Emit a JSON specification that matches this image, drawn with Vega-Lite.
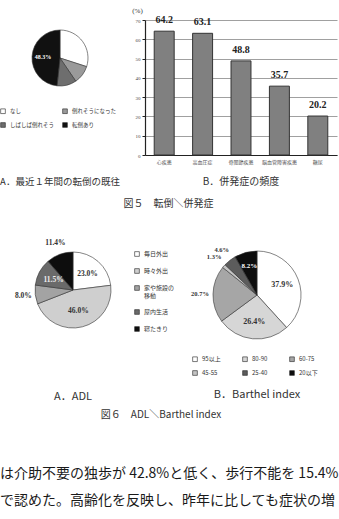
{
  "$schema": "https://vega.github.io/schema/vega-lite/v6.json",
  "padding": {"left": 0, "top": 6, "right": 0, "bottom": 0},
  "background": "white",
  "config": {
    "view": {"stroke": null},
    "font": "Noto Sans CJK JP",
    "title": {"fontWeight": "normal", "color": "#333", "fontSize": 10, "font": "Noto Sans CJK JP"}
  },
  "title": {
    "text": ["は介助不要の独歩が 42.8%と低く、歩行不能を 15.4%", "で認めた。高齢化を反映し、昨年に比しても症状の増", "加がみられた。"],
    "orient": "bottom", "anchor": "start", "fontSize": 14, "lineHeight": 27.5, "offset": 47, "color": "#1a1a1a"
  },
  "spacing": 27,
  "resolve": {"scale": {"color": "independent", "theta": "independent"}, "legend": {"color": "independent"}},
  "vconcat": [
    {
      "spacing": 11,
      "resolve": {"scale": {"color": "independent", "theta": "independent"}, "legend": {"color": "independent"}},
      "title": {"text": "図５　転倒＼併発症", "orient": "bottom", "anchor": "middle", "offset": 12, "fontSize": 10},
      "hconcat": [
        {
          "width": 120, "height": 76,
          "data": {"values": [
            {"cat": "なし", "pct": 30.0, "k": 1, "lab": ""},
            {"cat": "倒れそうになった", "pct": 10.5, "k": 2, "lab": ""},
            {"cat": "しばしば倒れそう", "pct": 11.2, "k": 3, "lab": ""},
            {"cat": "転倒あり", "pct": 48.3, "k": 4, "lab": "48.3%"}
          ]},
          "title": {"text": "A．最近１年間の転倒の既往", "orient": "bottom", "offset": 48, "fontSize": 9.5},
          "encoding": {
            "theta": {"field": "pct", "type": "quantitative", "stack": true},
            "order": {"field": "k", "type": "quantitative"}
          },
          "layer": [
            {
              "mark": {"type": "arc", "outerRadius": 28, "stroke": "#333", "strokeWidth": 0.6},
              "encoding": {
                "color": {
                  "field": "cat", "type": "nominal",
                  "scale": {"domain": ["なし", "倒れそうになった", "しばしば倒れそう", "転倒あり"], "range": ["#ffffff", "#9a9a9a", "#6e6e6e", "#111111"]},
                  "legend": {"orient": "bottom", "direction": "horizontal", "columns": 2, "title": null, "labelFontSize": 5.5, "symbolType": "square", "symbolSize": 22, "symbolStrokeColor": "#222", "symbolStrokeWidth": 0.6, "columnPadding": 6, "rowPadding": 6, "offset": 12, "labelColor": "#333", "labelLimit": 80}
                }
              }
            },
            {
              "mark": {"type": "text", "radius": 17, "fontSize": 6, "fontWeight": "bold", "font": "Liberation Serif", "color": "#ffffff"},
              "encoding": {
                "text": {"field": "lab"}
              }
            }
          ]
        },
        {
          "width": 192, "height": 135,
          "data": {"values": [
            {"cat": "心疾患", "v": 64.2},
            {"cat": "高血圧症", "v": 63.1},
            {"cat": "骨関節疾患", "v": 48.8},
            {"cat": "脳血管障害疾患", "v": 35.7},
            {"cat": "糖尿", "v": 20.2}
          ]},
          "title": {"text": "B．併発症の頻度", "orient": "bottom", "offset": 13, "fontSize": 10},
          "encoding": {
            "x": {"field": "cat", "type": "nominal", "sort": null,
                  "scale": {"paddingInner": 0.48, "paddingOuter": 0.24},
                  "axis": {"title": null, "labelAngle": 0, "labelFontSize": 5, "labelColor": "#555", "domainColor": "#222", "domainWidth": 1.2, "ticks": false, "labelPadding": 4}},
            "y": {"field": "v", "type": "quantitative", "scale": {"domain": [0, 70]},
                  "axis": {"values": [0, 10, 20, 30, 40, 50, 60, 70], "title": "(%)", "titleAngle": 0, "titleX": -8, "titleY": -10, "titleAlign": "center", "titleBaseline": "middle", "titleFontSize": 7, "titleFont": "Liberation Serif", "titleFontWeight": "normal", "titleColor": "#333", "labelFontSize": 5, "labelFont": "Liberation Serif", "labelColor": "#444", "gridColor": "#888", "gridWidth": 0.8, "tickSize": 3, "tickColor": "#222", "domainColor": "#222", "domainWidth": 1.2}}
          },
          "layer": [
            {"mark": {"type": "bar", "fill": "#808080", "stroke": "#333", "strokeWidth": 1}},
            {"mark": {"type": "text", "dy": -11, "font": "Liberation Serif", "fontWeight": "bold", "fontSize": 10, "color": "#222"},
             "encoding": {"text": {"field": "v", "type": "quantitative", "format": ".1f"}}}
          ]
        }
      ]
    },
    {
      "spacing": 16,
      "resolve": {"scale": {"color": "independent", "theta": "independent"}, "legend": {"color": "independent"}},
      "title": {"text": "図６　ADL＼Barthel index", "orient": "bottom", "anchor": "middle", "offset": 8, "fontSize": 10},
      "hconcat": [
        {
          "width": 146, "height": 78,
          "data": {"values": [
            {"cat": "毎日外出", "pct": 23.0, "k": 1, "lab": "23.0%"},
            {"cat": "時々外出", "pct": 46.0, "k": 2, "lab": "46.0%"},
            {"cat": "家や施設の移動", "pct": 8.0, "k": 3, "lab": "8.0%"},
            {"cat": "屋内生活", "pct": 11.5, "k": 4, "lab": "11.5%"},
            {"cat": "寝たきり", "pct": 11.4, "k": 5, "lab": "11.4%"}
          ]},
          "title": {"text": "A．ADL", "orient": "bottom", "offset": 49, "fontSize": 11},
          "encoding": {
            "theta": {"field": "pct", "type": "quantitative", "stack": true},
            "order": {"field": "k", "type": "quantitative"}
          },
          "layer": [
            {
              "mark": {"type": "arc", "outerRadius": 38, "stroke": "#333", "strokeWidth": 0.6},
              "encoding": {
                "color": {
                  "field": "cat", "type": "nominal",
                  "scale": {"domain": ["毎日外出", "時々外出", "家や施設の移動", "屋内生活", "寝たきり"], "range": ["#ffffff", "#cfcfcf", "#a3a3a3", "#6a6a6a", "#0d0d0d"]},
                  "legend": {"orient": "right", "offset": -12, "title": null, "labelFontSize": 6, "symbolType": "square", "symbolSize": 22, "symbolStrokeColor": "#222", "symbolStrokeWidth": 0.6, "rowPadding": 9, "labelColor": "#333", "labelLimit": 80,
                             "labelExpr": "datum.label == '家や施設の移動' ? ['家や施設の', '移動'] : datum.label"}
                }
              }
            },
            {
              "mark": {"type": "text", "radius": 22, "fontSize": 7.5, "fontWeight": "bold", "font": "Liberation Serif", "color": "#333333"},
              "encoding": {
                "text": {"condition": {"test": "datum.k == 1 || datum.k == 2", "field": "lab"}, "value": ""}
              }
            },
            {
              "mark": {"type": "text", "radius": 22, "fontSize": 7.5, "fontWeight": "bold", "font": "Liberation Serif", "color": "#eeeeee"},
              "encoding": {
                "text": {"condition": {"test": "datum.k == 4", "field": "lab"}, "value": ""}
              }
            },
            {
              "mark": {"type": "text", "radius": 50, "fontSize": 7.5, "fontWeight": "bold", "font": "Liberation Serif", "color": "#333333"},
              "encoding": {
                "text": {"condition": {"test": "datum.k == 3 || datum.k == 5", "field": "lab"}, "value": ""}
              }
            }
          ]
        },
        {
          "width": 130, "height": 88,
          "data": {"values": [
            {"cat": "95以上", "pct": 37.9, "k": 1, "lab": "37.9%"},
            {"cat": "80-90", "pct": 26.4, "k": 2, "lab": "26.4%"},
            {"cat": "60-75", "pct": 20.7, "k": 3, "lab": "20.7%"},
            {"cat": "45-55", "pct": 1.3, "k": 4, "lab": "1.3%"},
            {"cat": "25-40", "pct": 4.6, "k": 5, "lab": "4.6%"},
            {"cat": "20以下", "pct": 8.2, "k": 6, "lab": "8.2%"}
          ]},
          "title": {"text": "B．Barthel index", "orient": "bottom", "offset": 12, "fontSize": 11},
          "encoding": {
            "theta": {"field": "pct", "type": "quantitative", "stack": true},
            "order": {"field": "k", "type": "quantitative"}
          },
          "layer": [
            {
              "mark": {"type": "arc", "outerRadius": 44, "stroke": "#333", "strokeWidth": 0.6},
              "encoding": {
                "color": {
                  "field": "cat", "type": "nominal",
                  "scale": {"domain": ["95以上", "80-90", "60-75", "45-55", "25-40", "20以下"], "range": ["#ffffff", "#d6d6d6", "#a6a6a6", "#c4c4c4", "#5c5c5c", "#0d0d0d"]},
                  "legend": {"orient": "bottom", "direction": "horizontal", "columns": 3, "title": null, "labelFontSize": 6, "symbolType": "square", "symbolSize": 22, "symbolStrokeColor": "#222", "symbolStrokeWidth": 0.6, "columnPadding": 20, "rowPadding": 6, "offset": 17, "labelColor": "#333", "labelLimit": 80}
                }
              }
            },
            {
              "mark": {"type": "text", "radius": 27, "fontSize": 8, "fontWeight": "bold", "font": "Liberation Serif", "color": "#333333"},
              "encoding": {
                "text": {"condition": {"test": "datum.k == 1 || datum.k == 2", "field": "lab"}, "value": ""}
              }
            },
            {
              "mark": {"type": "text", "radius": 30, "fontSize": 7, "fontWeight": "bold", "font": "Liberation Serif", "color": "#ffffff"},
              "encoding": {
                "text": {"condition": {"test": "datum.k == 6", "field": "lab"}, "value": ""}
              }
            },
            {
              "mark": {"type": "text", "radius": 57, "fontSize": 6.5, "fontWeight": "bold", "font": "Liberation Serif", "color": "#333333"},
              "encoding": {
                "text": {"condition": {"test": "datum.k == 3 || datum.k == 4 || datum.k == 5", "field": "lab"}, "value": ""}
              }
            }
          ]
        }
      ]
    }
  ]
}
